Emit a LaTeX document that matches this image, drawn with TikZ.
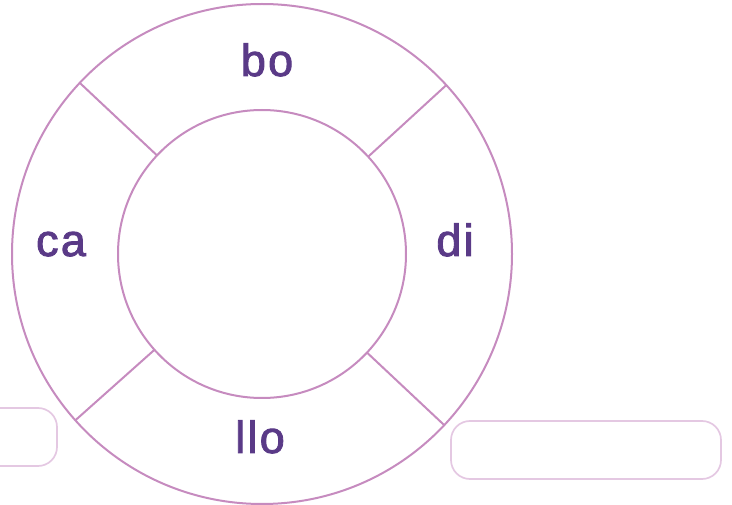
\documentclass[tikz,border=0pt]{standalone}
\usepackage{fontspec}
\setmainfont{Liberation Sans}
\newfontfamily\sylfont[FakeBold=2,LetterSpace=5]{Liberation Sans}
\usepackage{tikz}
\usetikzlibrary{positioning}
\definecolor{ringpink}{HTML}{C68BBF}
\definecolor{boxpink}{HTML}{E4C8E2}
\definecolor{sylpurple}{HTML}{5A3A87}
\newcommand{\ringcut}[1]{\draw[ringpink,line width=2pt] (#1:144) -- (#1:250);}
\tikzset{syl/.style={text=sylpurple,inner sep=0pt,font=\sylfont\fontsize{45}{48}\selectfont},
  blankbox/.style={draw=boxpink,line width=1.7pt,rounded corners=19pt,inner sep=0pt}}
\begin{document}
\begin{tikzpicture}[x=1pt,y=-1pt]
\useasboundingbox (0,0) rectangle (732,505);
\begin{scope}[shift={(262,254)},y=1pt]
\draw[ringpink,line width=2pt] (0,0) circle (250);
\draw[ringpink,line width=2pt] (0,0) circle (144);
\ringcut{42.5}
\ringcut{136.8}
\ringcut{221.7}
\ringcut{316.8}
\end{scope}
\node[syl,anchor=base] (bo) at (267,76) {bo};
\node[syl,anchor=base] (ca) at (61,256) {ca};
\node[syl,anchor=base] (di) at (455,256) {di};
\node[syl,anchor=base] (llo) at (260,453) {llo};
\node[blankbox,minimum width=270pt,minimum height=58pt] (rbox) at (586,450) {};
\node[blankbox,minimum width=100pt,minimum height=58pt] (lbox) at (7,437) {};
\end{tikzpicture}
\end{document}
